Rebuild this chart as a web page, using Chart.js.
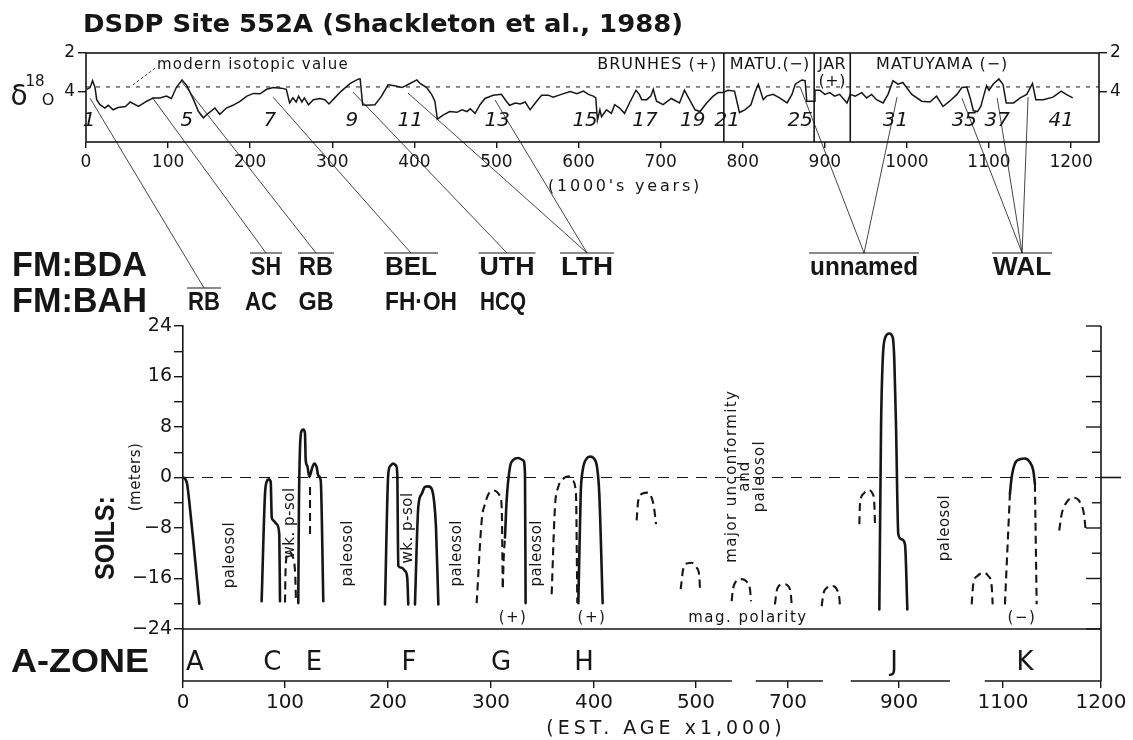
<!DOCTYPE html>
<html><head><meta charset="utf-8">
<script src="https://cdn.jsdelivr.net/npm/chart.js@4.4.1/dist/chart.umd.min.js"></script>
<style>
html,body{margin:0;padding:0;background:#fff;}
#wrap{position:relative;width:1133px;height:740px;background:#fff;}
canvas{position:absolute;left:0;top:0;}
</style></head><body>
<div id="wrap"><canvas id="c1" width="1133" height="740"></canvas><canvas id="c2" width="1133" height="740"></canvas></div>
<script>
// ================= DATA =================
const titleText = 'DSDP Site 552A (Shackleton et al., 1988)';
// delta-18O record (age in ka, per mil)
const isoAge = [1,5,8,11,13,17,23,27,33,39,48,54,64,74,82,90,98,104,110,117,123,131,137,143,149,157,163,171,179,188,196,204,212,220,228,238,244,248,252,256,259,263,266,271,277,285,291,296,303,311,322,332,334,337,342,352,360,368,376,385,393,403,407,415,421,425,428,435,443,452,458,464,468,474,480,486,496,506,512,516,523,529,535,541,549,555,563,569,579,590,598,606,612,618,621,623,626,628,634,640,644,650,656,662,670,674,677,683,688,691,695,703,713,723,729,734,742,748,756,764,770,776,782,790,796,803,810,815,819,825,829,837,845,854,860,864,872,876,878,887,888,894,900,906,912,918,927,931,937,945,951,957,963,971,977,983,989,995,1006,1018,1028,1036,1044,1052,1061,1067,1073,1077,1081,1086,1090,1094,1097,1100,1105,1112,1117,1121,1130,1138,1146,1153,1157,1166,1178,1188,1194,1202];
const isoD18O = [3.86,3.77,3.42,3.77,4.39,4.65,4.82,4.68,4.91,4.79,4.74,4.51,4.74,4.47,4.30,4.30,4.21,4.33,3.77,3.38,3.68,4.39,5.00,5.32,5.09,4.82,5.14,4.82,4.68,4.47,4.21,4.07,4.09,3.86,3.77,3.80,3.86,4.56,4.30,4.51,4.21,4.51,4.30,4.65,4.39,4.33,4.39,4.61,4.30,3.95,3.56,3.33,3.33,4.65,4.68,4.65,4.21,3.63,3.68,3.77,3.60,3.38,3.56,3.77,4.12,4.47,5.39,5.18,5.00,5.04,4.91,5.00,4.86,5.09,4.65,4.33,4.17,4.12,4.47,4.68,4.56,4.61,4.51,4.91,4.47,4.16,4.16,4.26,4.12,3.98,4.08,3.95,4.12,4.21,4.30,5.44,4.91,5.26,4.91,5.09,4.65,4.82,5.09,4.56,3.91,4.12,4.39,4.39,4.21,3.86,4.47,4.65,4.33,4.56,3.91,4.30,4.91,5.00,4.56,4.21,4.03,4.03,3.91,3.95,5.05,4.90,4.65,4.00,3.60,4.39,4.21,4.12,4.30,4.56,4.12,3.60,3.38,3.42,4.47,4.47,3.91,3.91,4.12,4.03,4.21,4.12,4.56,4.12,4.21,4.03,4.30,4.12,4.39,4.56,4.12,3.42,3.60,3.51,4.12,4.47,4.51,4.21,4.74,4.47,4.12,3.77,3.74,4.30,4.96,5.00,4.74,4.12,3.68,3.91,3.60,3.33,3.60,4.56,4.56,4.30,4.12,3.56,4.39,4.39,4.26,3.95,4.12,4.30];
const modernD18O = 3.74;
const polarityBoundaryAges = [777, 887, 931];
const topAgeTicks = [0,100,200,300,400,500,600,700,800,900,1000,1100,1200];
const d18OTicks = [2,4];
const stageNumbers = ['1','5','7','9','11','13','15','17','19','21','25','31','35','37','41'];
const stageAges = [3.7,123,224,324,395,501,608,681,739,781,870,986,1070,1110,1188];
const polarityNames = ['BRUNHES (+)','MATU.(−)','JAR','(+)','MATUYAMA (−)'];
const polarityNameAges = [769,833,909,909,1043];
// formation names (Bermuda BDA / Bahamas BAH)
const formationBDA = ['SH','RB','BEL','UTH','LTH','unnamed','WAL'];
const formationBAH = ['RB','AC','GB','FH·OH','HCQ'];
// correlation leaders: start (age, d18O) -> formation
const leaderStartAge = [4.9,80.4,116.9,227.8,325.2,392.2,498.3,869.9,988,1067,1110,1147.6];
const leaderStartD18O = [4.31,4.26,3.49,4.26,4.0,4.05,4.41,3.74,4.26,4.31,4.31,4.26];
const leaderTarget = ['BAH:RB','BDA:SH','BDA:RB','BDA:BEL','BDA:UTH','BDA:LTH','BDA:LTH','BDA:unnamed','BDA:unnamed','BDA:WAL','BDA:WAL','BDA:WAL'];

// soils: [est. age ka, elevation m]
const ageTicks = [0,100,200,300,400,500,700,900,1100,1200];
const soilTicks = [-24,-16,-8,0,8,16,24];
const soilA = [[0,0],[2,-0.2],[4,-1],[6,-3.6],[10,-9.9],[16,-20]];
const soilC = [[77.1,-19.6],[80.4,-2.6],[82,-0.7],[84.3,-0.3],[86,-0.7],[87,-6.3],[88.5,-6.8],[91.9,-7.4],[94.4,-9],[95.1,-19.6]];
const soilCWeak = [[100,-19.8],[100.5,-15],[102,-12.3],[104.5,-11.8],[107,-12.4],[109.8,-15],[110.7,-19.8]];
const soilE = [[112.9,-19.9],[113.5,-5],[114.6,4.8],[116.2,7.4],[117.8,7.6],[119.4,7.0],[120.1,2.8],[121.7,1.8],[123.6,0.1],[126.5,1.6],[128.5,2.2],[130.8,1.6],[132.3,0.3],[134.7,-0.5],[137.2,-19.6]];
const soilECore = [[124.3,-1.5],[124.3,-9]];
const soilF1 = [[197.1,-20.1],[200.3,0.6],[202.6,1.9],[205.1,2.2],[207.8,1.9],[209,0.6],[210,-14],[213.3,-14.3],[216.5,-14.8],[218.7,-15.9],[219.7,-20.1]];
const soilF2 = [[226.2,-20.1],[229.4,-4.7],[232.7,-2.6],[235.9,-1.5],[239.1,-1.4],[242.4,-1.8],[244.7,-3.7],[246.6,-7.9],[248.9,-20.1]];
const soilG1 = [[286.1,-19.9],[291,-6.8],[294.2,-4.2],[299,-2.3],[303.9,-2.1],[308.7,-2.9],[310.4,-4.7],[311.4,-17.5]];
const soilG2Base = [[311.5,-17.4],[312.3,-13],[313.6,-9.5]];
const soilG2 = [[313.6,-9.5],[315.2,-3.6],[318.4,1.6],[321.7,2.8],[326.5,3.1],[331.4,2.7],[333,0.6],[333.6,-19.9]];
const soilH1 = [[358.9,-18.5],[362.1,-4.7],[365.3,-1.5],[370.2,-0.2],[375.1,0.2],[379.3,-0.5],[382.5,-2.6],[383.8,-19.9]];
const soilH2 = [[384.8,-19.9],[387.1,-2.6],[389,1.1],[392.9,3.0],[396.1,3.3],[400,3.0],[403.2,1.4],[405.2,-2.6],[408.5,-19.9]];
const soilP1 = [[441.8,-6.8],[443.4,-3.7],[448.3,-2.5],[452.6,-2.4],[456.5,-3.2],[458.8,-4.7],[460.8,-7.4]];
const soilP2 = [[485,-17.7],[487.5,-14.5],[491.5,-13.6],[495.8,-13.5],[501.5,-14.3],[507.2,-15.6],[508.7,-17.7]];
const soilP3 = [[577.6,-19.6],[579.8,-18],[584.8,-16.7],[599.4,-16.1],[610.2,-16.5],[617.4,-17.7],[619.6,-19.6]];
const soilP4 = [[671.7,-20.1],[675.4,-18],[684.1,-17],[692,-16.9],[700.5,-17.2],[704.9,-18.3],[706.7,-20.1]];
const soilP5 = [[760.7,-20.4],[763.6,-18.5],[769.7,-17.5],[780.5,-17.2],[787.8,-17.7],[792.5,-19.1],[793.7,-20.4]];
const soilJ1 = [[828.5,-7.4],[829.7,-4.2],[835.7,-2.6],[844.7,-2.0],[852.6,-2.6],[855.5,-4.2],[856.7,-7.4]];
const soilJ = [[864.5,-20.9],[867.6,8.0],[870.6,18.6],[874.8,22.1],[882.5,22.8],[888.6,22.2],[891.5,18.6],[894.6,8.0],[898.7,-9.0],[905.2,-9.8],[911.5,-10.6],[916,-20.9]];
const soilK1 = [[1039.8,-20.1],[1042.9,-16.9],[1050.8,-15.6],[1062.3,-15.1],[1071.9,-15.6],[1078.3,-17.2],[1080.2,-20.1]];
const soilK2Left = [[1102,-20.1],[1107.1,-2.6]];
const soilK2 = [[1107.1,-2.6],[1108.9,0.05],[1112.2,2.2],[1117.3,2.9],[1122.4,3.0],[1127.5,2.4],[1130.9,1.1],[1132.6,-1.0]];
const soilK2Right = [[1132.6,-1.0],[1134.4,-20.1]];
const soilK3 = [[1157.4,-8.4],[1159.9,-5.8],[1165,-3.9],[1172.4,-3.2],[1178.5,-3.9],[1182.6,-5.8],[1184.4,-8.4]];
const aZoneLetters = ['A','C','E','F','G','H','J','K'];
const aZoneAges = [11.7,87.7,128.2,220.4,309.7,390.3,891,1122.4];
const aZoneAxisSegments = [[0,578],[630,763],[813,998],[1065,1200]];
const soilNotes = ['paleosol','wk. p-sol','paleosol','wk. p-sol','paleosol','paleosol','paleosol'];
const soilNoteAges = [45.8,104.9,161.2,219.4,267,344.7,988.5];
const polarityMarks = ['(+)','(+)','mag. polarity','(−)'];
const polarityMarkAges = [321.4,398,613,1119.4];

const solidSoils = [soilA, soilC, soilE, soilF1, soilF2, soilG2, soilH2, soilJ, soilK2];
const dashedSoils = [soilCWeak, soilG1, soilG2Base, soilH1, soilP1, soilP2, soilP3, soilP4, soilP5, soilJ1, soilK1, soilK2Left, soilK2Right, soilK3];

// ================= LAYOUT / STYLE =================
const INK = '#161616';
const FONT = '"DejaVu Sans"';
const BIG = '"Liberation Sans"';
const W = 1133, H = 740;
const TOP = {left:86, right:1099, top:53, bottom:142};
const BOT = {left:183, right:1101, top:326, bottom:681};
const ageTickFrac = [0,0.1111,0.2233,0.3355,0.4477,0.5588,0.6590,0.7800,0.8932,1];
const formationBDAPos = [219.3,280.2,395.9,512.9,610.4,947.8,1140.3]; // top-axis units
const formationBDAWidth = [30,34,52,55,52,108,58];
const formationBAHPos = [143.8,213.2,280.2,408.1,508.0];
const formationBAHWidth = [32,32,35,72,46];
const BDA_Y = 268, BDA_BAR = 253, BAH_Y = 303, BAH_BAR = 288;

Chart.defaults.font.family = 'DejaVu Sans';
Chart.defaults.color = INK;

function txt(ctx, s, x, y, o) {
  o = o || {};
  ctx.save();
  ctx.font = o.font || ('15px ' + FONT);
  ctx.fillStyle = INK;
  ctx.textAlign = o.align || 'center';
  ctx.textBaseline = o.baseline || 'middle';
  if ('letterSpacing' in ctx) ctx.letterSpacing = (o.ls || 0) + 'px';
  ctx.translate(x, y);
  if (o.rot) ctx.rotate(o.rot);
  if (o.width) { const w = ctx.measureText(s).width; ctx.scale(o.width / w, 1); }
  ctx.fillText(s, 0, 0);
  ctx.restore();
}
function seg(ctx, x1, y1, x2, y2, lw, dash) {
  ctx.save(); ctx.beginPath(); ctx.lineWidth = lw; ctx.strokeStyle = INK;
  ctx.setLineDash(dash || []); ctx.moveTo(x1, y1); ctx.lineTo(x2, y2); ctx.stroke(); ctx.restore();
}
const plainNum = v => String(v);

// piecewise (broken) age scale for the soils panel
class BrokenScale extends Chart.LinearScale {
  static id = 'broken';
  static defaults = Chart.LinearScale.defaults;
  _frac(v) {
    const A = ageTicks, F = ageTickFrac;
    let i = 0;
    while (i < A.length - 2 && v > A[i + 1]) i++;
    return F[i] + (v - A[i]) / (A[i + 1] - A[i]) * (F[i + 1] - F[i]);
  }
  getPixelForValue(v) {
    if (v === null || v === undefined || isNaN(v)) return NaN;
    return this.getPixelForDecimal(this._frac(v));
  }
  getValueForPixel(p) {
    const f = this.getDecimalForPixel(p), A = ageTicks, F = ageTickFrac;
    let i = 0;
    while (i < F.length - 2 && f > F[i + 1]) i++;
    return A[i] + (f - F[i]) / (F[i + 1] - F[i]) * (A[i + 1] - A[i]);
  }
}
Chart.register(BrokenScale);

// ================= TOP CHART =================
const topDecor = {
  id: 'topDecor',
  afterDraw(chart) {
    const ctx = chart.ctx, a = chart.chartArea;
    const X = v => chart.scales.x.getPixelForValue(v), Y = v => chart.scales.y.getPixelForValue(v);
    ctx.save(); ctx.lineWidth = 1.6; ctx.strokeStyle = INK;
    ctx.strokeRect(a.left, a.top, a.right - a.left, a.bottom - a.top); ctx.restore();
    txt(ctx, titleText, 83, 26, {font: 'bold 24px ' + FONT, align: 'left', width: 600});
    txt(ctx, 'δ', 19, 98, {font: '28px ' + FONT});
    txt(ctx, '18', 35, 82, {font: '15px ' + FONT});
    txt(ctx, 'O', 48, 101, {font: '16px ' + FONT});
    txt(ctx, 'modern isotopic value', X(86.5), Y(2.62), {font: '15px ' + FONT, align: 'left', ls: 1.2});
    seg(ctx, X(57), Y(3.64), X(85), Y(2.75), 0.8, [3, 2]);
    txt(ctx, polarityNames[0], X(polarityNameAges[0]), Y(2.62), {font: '16px ' + FONT, align: 'right', ls: 1});
    txt(ctx, polarityNames[1], X(polarityNameAges[1]), Y(2.62), {font: '16px ' + FONT, ls: 0.5});
    txt(ctx, polarityNames[2], X(polarityNameAges[2]), Y(2.62), {font: '16px ' + FONT, ls: 0.5});
    txt(ctx, polarityNames[3], X(polarityNameAges[3]), Y(3.49), {font: '16px ' + FONT, ls: 0.5});
    txt(ctx, polarityNames[4], X(polarityNameAges[4]), Y(2.62), {font: '16px ' + FONT, ls: 1});
    stageNumbers.forEach((s, i) => txt(ctx, s, X(stageAges[i]), Y(5.49), {font: 'italic 20px ' + FONT}));
    txt(ctx, "(1000's years)", X(656.6), 187, {font: '16px ' + FONT, ls: 2.8});
    // formation labels
    const anchors = {};
    formationBDA.forEach((s, i) => {
      const x = X(formationBDAPos[i]), w = formationBDAWidth[i];
      txt(ctx, s, x, BDA_Y, {font: 'bold 25px ' + BIG, width: w});
      seg(ctx, x - w / 2 - 1, BDA_BAR, x + w / 2 + 1, BDA_BAR, 1.2);
      anchors['BDA:' + s] = [x, BDA_BAR];
    });
    formationBAH.forEach((s, i) => {
      const x = X(formationBAHPos[i]), w = formationBAHWidth[i];
      txt(ctx, s, x, BAH_Y, {font: 'bold 25px ' + BIG, width: w});
      if (s === 'RB') seg(ctx, x - w / 2 - 1, BAH_BAR, x + w / 2 + 1, BAH_BAR, 1.2);
      anchors['BAH:' + s] = [x, BAH_BAR];
    });
    leaderTarget.forEach((t, i) => {
      const e = anchors[t];
      seg(ctx, X(leaderStartAge[i]), Y(leaderStartD18O[i]), e[0], e[1], 0.8);
    });
    txt(ctx, 'FM:BDA', 12, 266, {font: 'bold 35px ' + BIG, align: 'left', width: 135});
    txt(ctx, 'FM:BAH', 12, 302, {font: 'bold 35px ' + BIG, align: 'left', width: 135});
  }
};

const topDatasets = [
  {data: isoAge.map((x, i) => ({x, y: isoD18O[i]})), borderColor: INK, borderWidth: 1.5, pointRadius: 0, tension: 0},
  {data: [{x: 0, y: modernD18O}, {x: 1234, y: modernD18O}], borderColor: INK, borderWidth: 1, borderDash: [4, 6], pointRadius: 0},
].concat(polarityBoundaryAges.map(b => ({data: [{x: b, y: 2}, {x: b, y: 6.56}], borderColor: INK, borderWidth: 1.6, pointRadius: 0})));

function fixW(w) { return s => { s.width = w; s.paddingTop = 0; s.paddingBottom = 0; }; }
function fixH(h) { return s => { s.height = h; s.paddingLeft = 0; s.paddingRight = 0; }; }
const yTop = {
  type: 'linear', min: 2, max: 6.56, reverse: true,
  afterBuildTicks: s => { s.ticks = d18OTicks.map(v => ({value: v})); },
  grid: {drawOnChartArea: false, drawTicks: true, tickLength: 8, color: INK, lineWidth: 1.4},
  border: {display: false},
  ticks: {font: {size: 17}, padding: 3, color: INK, callback: plainNum}
};
new Chart(document.getElementById('c1'), {
  type: 'line',
  data: {datasets: topDatasets},
  options: {
    animation: false, responsive: false, devicePixelRatio: 1, events: [],
    layout: {padding: {top: TOP.top, bottom: H - TOP.bottom - 30, left: 0, right: 0}},
    plugins: {legend: {display: false}, tooltip: {enabled: false}},
    scales: {
      x: {type: 'linear', min: 0, max: 1234, position: 'bottom',
        afterBuildTicks: s => { s.ticks = topAgeTicks.map(v => ({value: v})); },
        afterFit: fixH(30),
        grid: {drawOnChartArea: false, drawTicks: true, tickLength: 6, color: INK, lineWidth: 1.4},
        border: {display: false},
        ticks: {font: {size: 17}, padding: 4, color: INK, maxRotation: 0, autoSkip: false, callback: plainNum}},
      y: Object.assign({}, yTop, {position: 'left', afterFit: fixW(TOP.left)}),
      y2: Object.assign({}, yTop, {position: 'right', afterFit: fixW(W - TOP.right)})
    }
  },
  plugins: [topDecor]
});

// ================= BOTTOM CHART =================
const botDecor = {
  id: 'botDecor',
  afterDraw(chart) {
    const ctx = chart.ctx, a = chart.chartArea;
    const X = v => chart.scales.x.getPixelForValue(v), Y = v => chart.scales.y.getPixelForValue(v);
    seg(ctx, a.left, Y(-24), a.right, Y(-24), 1.6);
    seg(ctx, a.right, a.top, a.right, a.bottom, 1.6);
    for (let v = -24; v <= 24; v += 4) {
      const y = Y(v);
      if (v === 0) seg(ctx, a.right, y, a.right + 20, y, 1.6);
      else seg(ctx, a.right - (v % 8 === 0 ? 15 : 9), y, a.right, y, 1.4);
    }
    aZoneAxisSegments.forEach(sg => seg(ctx, X(sg[0]), a.bottom, X(sg[1]), a.bottom, 1.6));
    aZoneLetters.forEach((s, i) => txt(ctx, s, X(aZoneAges[i]), Y(-29.4), {font: '26px ' + FONT}));
    txt(ctx, 'A-ZONE', 11, 663, {font: 'bold 34px ' + BIG, align: 'left', width: 138});
    txt(ctx, 'SOILS:', 107, 538, {font: 'bold 27px ' + BIG, rot: -Math.PI / 2, width: 84});
    txt(ctx, '(meters)', 136, 477, {font: '15px ' + FONT, rot: -Math.PI / 2, ls: 0.5});
    const noteY = [-12.3, -7.2, -12.0, -8.0, -12.0, -12.0, -8.0];
    soilNotes.forEach((s, i) => txt(ctx, s, X(soilNoteAges[i]), Y(noteY[i]), {font: '15px ' + FONT, rot: -Math.PI / 2, ls: 0.5}));
    txt(ctx, 'major unconformity', X(578.3), Y(0.2), {font: '15px ' + FONT, rot: -Math.PI / 2, ls: 1.4});
    txt(ctx, 'and', X(606.5), Y(0.2), {font: '15px ' + FONT, rot: -Math.PI / 2, ls: 1});
    txt(ctx, 'paleosol', X(639.1), Y(0.2), {font: '15px ' + FONT, rot: -Math.PI / 2, ls: 1.2});
    polarityMarks.forEach((s, i) => txt(ctx, s, X(polarityMarkAges[i]), Y(-22.3), {font: '15px ' + FONT, ls: 1.5}));
    txt(ctx, '(EST. AGE x1,000)', X(470.6), 729, {font: '19px ' + FONT, ls: 4});
  }
};

const botDatasets = [
  {data: [{x: 0, y: 0}, {x: 1200, y: 0}], borderColor: INK, borderWidth: 1, borderDash: [11, 8], pointRadius: 0}
].concat(solidSoils.map(s => ({
  data: s.map(p => ({x: p[0], y: p[1]})), borderColor: INK, borderWidth: 2.6, pointRadius: 0,
  cubicInterpolationMode: 'monotone', borderCapStyle: 'round', borderJoinStyle: 'round'
}))).concat(dashedSoils.map(s => ({
  data: s.map(p => ({x: p[0], y: p[1]})), borderColor: INK, borderWidth: 2.1, pointRadius: 0,
  borderDash: [8, 5], cubicInterpolationMode: 'monotone'
}))).concat([{data: soilECore.map(p => ({x: p[0], y: p[1]})), borderColor: INK, borderWidth: 2.1, borderDash: [8, 5], pointRadius: 0}]);

new Chart(document.getElementById('c2'), {
  type: 'line',
  data: {datasets: botDatasets},
  options: {
    animation: false, responsive: false, devicePixelRatio: 1, events: [],
    layout: {padding: {top: BOT.top, bottom: 0, left: 0, right: W - BOT.right}},
    plugins: {legend: {display: false}, tooltip: {enabled: false}},
    scales: {
      x: {type: 'broken', min: 0, max: 1200, position: 'bottom',
        afterBuildTicks: s => { s.ticks = ageTicks.map(v => ({value: v})); },
        afterFit: fixH(H - BOT.bottom),
        grid: {drawOnChartArea: false, drawTicks: true, tickLength: 7, color: INK, lineWidth: 1.4},
        border: {display: false},
        ticks: {font: {size: 20}, padding: 3, color: INK, maxRotation: 0, autoSkip: false, callback: plainNum}},
      y: {type: 'linear', min: -32.24, max: 24, position: 'left',
        afterBuildTicks: s => { const t = []; for (let v = -24; v <= 24; v += 4) t.push({value: v}); s.ticks = t; },
        afterFit: fixW(BOT.left),
        grid: {drawOnChartArea: false, drawTicks: true, tickLength: 9, color: INK, lineWidth: 1.4},
        border: {display: true, color: INK, width: 1.6},
        ticks: {font: {size: 19}, padding: 2, color: INK,
          callback: v => soilTicks.includes(v) ? (v < 0 ? '−' + Math.abs(v) : String(v)) : ''}}
    }
  },
  plugins: [botDecor]
});
</script></body></html>
